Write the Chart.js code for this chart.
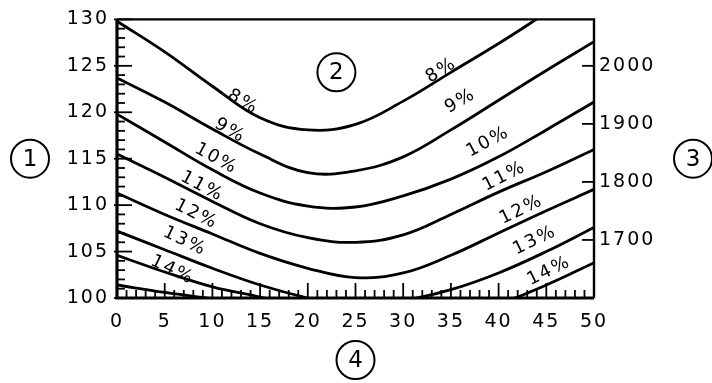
<!DOCTYPE html>
<html>
<head>
<meta charset="utf-8">
<script src="https://cdn.jsdelivr.net/npm/chart.js@4.4.1/dist/chart.umd.min.js"></script>
<style>
html,body{margin:0;padding:0;background:#fff;}
#wrap{width:712px;height:383px;}
</style>
</head>
<body>
<div id="wrap"><canvas id="c" width="712" height="383"></canvas></div>
<script>
// ---- data ----
const xValues = [0, 5, 10, 15, 20, 25, 30, 35, 40, 45, 50];
const rate8  = [129.8, 126.5, 122.8, 119.4, 118.1, 118.7, 121.2, 124.3, 127.4, 130.7, 134.0];
const rate9  = [123.7, 121.1, 118.2, 115.5, 113.5, 113.7, 115.2, 118.1, 121.3, 124.5, 127.6];
const rate10 = [119.8, 116.8, 113.8, 111.3, 109.9, 109.8, 111.0, 112.8, 115.2, 118.1, 121.1];
const rate11 = [115.5, 113.0, 110.4, 108.0, 106.5, 106.0, 106.8, 109.0, 111.4, 113.6, 116.0];
const rate12 = [111.3, 109.0, 106.9, 104.8, 103.2, 102.2, 102.7, 104.6, 107.0, 109.4, 111.7];
const rate13 = [107.2, 105.2, 103.2, 101.4, 100.0, 99.0, 99.7, 100.9, 102.7, 105.0, 107.6];
const rate14 = [104.6, 102.8, 101.2, 100.1, 98.8, 98.2, 98.0, 98.4, 99.4, 101.4, 103.8];
const rate15 = [101.4, 100.6, 99.9, 99.1];
const seriesValues = [rate8, rate9, rate10, rate11, rate12, rate13, rate14, rate15];
const curveNames = ['8%', '9%', '10%', '11%', '12%', '13%', '14%', '15%'];

const xTicks = [0, 5, 10, 15, 20, 25, 30, 35, 40, 45, 50];
const leftTicks = [100, 105, 110, 115, 120, 125, 130];
const rightTicks = [1700, 1800, 1900, 2000];
const rightFactor = 16;          // right axis value = left axis value x 16
const axisTitles = ['1', '2', '3', '4'];

// label anchors in data units: [x, y, angle]
const leftLabelAnchors = [[13.2,121.1,30],[11.85,118.0,30],[10.4,115.0,29],[8.9,112.0,28],[8.3,109.0,27],[7.1,106.1,26],[5.8,103.0,26]];
const rightLabelAnchors = [[34.0,124.5,-32],[36.0,121.2,-30],[38.9,116.8,-28],[40.6,113.1,-27],[42.4,109.5,-26],[43.8,106.2,-26],[45.3,102.9,-26]];

const xMin = 0, xMax = 50, yMin = 100, yMax = 130, minorStep = 1;
const FONT = 'DejaVu Sans';

const datasets = seriesValues.map((vals, i) => ({
  label: curveNames[i],
  data: vals.map((v, k) => ({ x: xValues[k], y: v })),
  borderColor: '#000',
  borderWidth: 2.8,
  pointRadius: 0,
  tension: 0.4,
  fill: false,
  yAxisID: 'y'
}));

const spacing = {
  id: 'spacing',
  beforeDraw(chart) { chart.ctx.letterSpacing = '2px'; }
};

const frame = {
  id: 'frame',
  afterDatasetsDraw(chart) {
    const { ctx, chartArea: a, scales: { x, y, y2 } } = chart;
    ctx.save();
    ctx.strokeStyle = '#000';
    ctx.lineWidth = 1.8;
    for (let v = xMin; v <= xMax; v += minorStep) {
      const px = x.getPixelForValue(v);
      const len = v % 5 === 0 ? 15 : 8;
      ctx.beginPath(); ctx.moveTo(px, a.bottom); ctx.lineTo(px, a.bottom - len); ctx.stroke();
    }
    for (let v = yMin; v <= yMax; v += minorStep) {
      const py = y.getPixelForValue(v);
      const len = v % 5 === 0 ? 15 : 8;
      ctx.beginPath(); ctx.moveTo(a.left - (v % 5 === 0 ? 3 : 0), py); ctx.lineTo(a.left + len, py); ctx.stroke();
    }
    rightTicks.forEach(v => {
      const py = y2.getPixelForValue(v);
      ctx.beginPath(); ctx.moveTo(a.right - 12, py); ctx.lineTo(a.right, py); ctx.stroke();
    });
    ctx.lineWidth = 3.2;
    ctx.beginPath(); ctx.moveTo(a.left, a.top); ctx.lineTo(a.left, a.bottom); ctx.lineTo(a.right, a.bottom); ctx.stroke();
    ctx.lineWidth = 2.4;
    ctx.beginPath(); ctx.moveTo(a.left, a.top); ctx.lineTo(a.right, a.top); ctx.lineTo(a.right, a.bottom); ctx.stroke();
    ctx.restore();
  }
};

const curveLabels = {
  id: 'curveLabels',
  afterDraw(chart) {
    const { ctx, scales: { x, y } } = chart;
    ctx.save();
    ctx.fillStyle = '#000';
    ctx.font = '18px "' + FONT + '"';
    ctx.letterSpacing = '2px';
    ctx.textAlign = 'center';
    ctx.textBaseline = 'middle';
    [leftLabelAnchors, rightLabelAnchors].forEach(list => {
      list.forEach((p, i) => {
        ctx.save();
        ctx.translate(x.getPixelForValue(p[0]), y.getPixelForValue(p[1]));
        ctx.rotate(p[2] * Math.PI / 180);
        ctx.fillText(curveNames[i], 0, 0);
        ctx.restore();
      });
    });
    // circled axis titles
    const a = chart.chartArea;
    const midY = (a.top + a.bottom) / 2;
    const spots = [
      [30, midY],
      [x.getPixelForValue(23.0), y.getPixelForValue(124.3)],
      [693, midY],
      [(a.left + a.right) / 2, 360]
    ];
    ctx.lineWidth = 2;
    ctx.strokeStyle = '#000';
    ctx.font = '23px "' + FONT + '"';
    ctx.letterSpacing = '0px';
    spots.forEach((s, i) => {
      ctx.beginPath(); ctx.arc(s[0], s[1], 19, 0, Math.PI * 2); ctx.stroke();
      ctx.fillText(axisTitles[i], s[0], s[1] + 1);
    });
    ctx.restore();
  }
};

const tickFont = { family: FONT, size: 19 };
const plain = v => String(v);

new Chart(document.getElementById('c'), {
  type: 'line',
  data: { datasets },
  options: {
    responsive: false,
    devicePixelRatio: 1,
    animation: false,
    layout: { padding: { top: 16, left: 0, right: 0, bottom: 0 } },
    plugins: { legend: { display: false }, tooltip: { enabled: false } },
    scales: {
      x: {
        type: 'linear', position: 'bottom', min: xMin, max: xMax,
        afterBuildTicks: s => { s.ticks = xTicks.map(v => ({ value: v })); },
        afterFit: s => { s.height = 85; },
        ticks: { font: tickFont, color: '#000', padding: 13, maxRotation: 0, autoSkip: false, callback: plain },
        grid: { display: false, drawTicks: false },
        border: { display: false }
      },
      y: {
        type: 'linear', position: 'left', min: yMin, max: yMax,
        afterBuildTicks: s => { s.ticks = leftTicks.map(v => ({ value: v })); },
        afterFit: s => { s.width = 117; },
        ticks: { font: tickFont, color: '#000', padding: 8, callback: plain },
        grid: { display: false, drawTicks: false },
        border: { display: false }
      },
      y2: {
        type: 'linear', position: 'right', min: yMin * rightFactor, max: yMax * rightFactor,
        afterBuildTicks: s => { s.ticks = rightTicks.map(v => ({ value: v })); },
        afterFit: s => { s.width = 118; },
        ticks: { font: tickFont, color: '#000', padding: 5, callback: plain },
        grid: { display: false, drawTicks: false },
        border: { display: false }
      }
    }
  },
  plugins: [spacing, frame, curveLabels]
});
</script>
</body>
</html>
